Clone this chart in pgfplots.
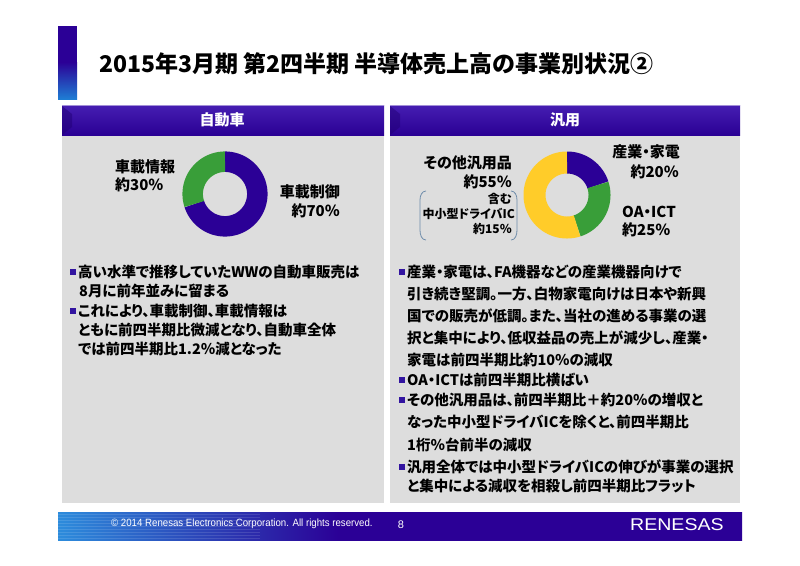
\documentclass[border=0pt]{standalone}
\usepackage{pgfplots}
\pgfplotsset{compat=1.18}
\usepackage{fontspec}
\setmainfont{Noto Sans CJK JP}[RawFeature=+palt]
\newfontfamily\latinfont{Liberation Sans}

\definecolor{rpurple}{RGB}{43,0,150}
\definecolor{rgreen}{RGB}{57,158,57}
\definecolor{ryellow}{RGB}{255,204,41}
\definecolor{panelgray}{RGB}{221,221,221}
\definecolor{hdrtop}{RGB}{70,30,178}
\definecolor{hdrbot}{RGB}{42,0,148}
\definecolor{barblue}{RGB}{30,125,212}
\definecolor{footblue}{RGB}{45,140,220}
\definecolor{brkt}{RGB}{110,140,170}
\definecolor{bulletc}{RGB}{50,20,160}

\newcommand\bul[2]{\fill[bulletc] (#1,#2-3) rectangle ++(6,6);}
\newcommand\txt[3]{\node[anchor=west, inner sep=0pt, font=\fontsize{14.5}{17}\selectfont\bfseries] at (#1,#2) {#3};}

\begin{document}
\begin{tikzpicture}[x=1pt, y=-1pt]
\path[use as bounding box, fill=white] (0,0) rectangle (800,565);

% title
\fill[rpurple] (58,26) rectangle (77,62);
\shade[top color=rpurple, bottom color=barblue] (58,62) rectangle (77,99);
\node[anchor=west, inner sep=0pt, font=\fontsize{23}{25}\selectfont\bfseries] at (99,64)
  {2015年3月期 第2四半期 半導体売上高の事業別状況②};

% panels
\fill[panelgray] (62,135) rectangle (384,503);
\fill[panelgray] (390,135) rectangle (740,503);
\shade[top color=hdrtop, bottom color=hdrbot] (62,105) rectangle (384,135);
\shade[top color=hdrtop, bottom color=hdrbot] (390,105) rectangle (740,135);
\draw[hdrtop!50!white, line width=1pt] (62,105.5) -- (384,105.5) (390,105.5) -- (740,105.5);
\fill[hdrbot!80!black, opacity=0.5] (62,106) -- (72,114) -- (72,127) -- (62,135) -- cycle;
\fill[hdrbot!80!black, opacity=0.5] (390,106) -- (400,114) -- (400,127) -- (390,135) -- cycle;
\node[white, font=\fontsize{15}{17}\selectfont\bfseries] at (222,120) {自動車};
\node[white, font=\fontsize{15}{17}\selectfont\bfseries] at (565,120) {汎用};

% donut: automotive (shares in %)
\begin{axis}[at={(225pt,-194pt)}, anchor=center, x=1pt, y=1pt,
  xmin=-50, xmax=50, ymin=-50, ymax=50, hide axis, clip=false]
  \addplot[rpurple, line width=20.5pt, domain=90-3.6*70:90, samples=120] ({32.3*cos(x)},{32.3*sin(x)});
  \addplot[rgreen, line width=20.5pt, domain=90-3.6*100:90-3.6*70, samples=60] ({32.3*cos(x)},{32.3*sin(x)});
\end{axis}

% donut: general purpose (shares in %)
\begin{axis}[at={(567pt,-195pt)}, anchor=center, x=1pt, y=1pt,
  xmin=-50, xmax=50, ymin=-50, ymax=50, hide axis, clip=false]
  \addplot[rpurple, line width=22pt, domain=90-3.6*20:90, samples=40] ({32.5*cos(x)},{32.5*sin(x)});
  \addplot[rgreen, line width=22pt, domain=90-3.6*45:90-3.6*20, samples=50] ({32.5*cos(x)},{32.5*sin(x)});
  \addplot[ryellow, line width=22pt, domain=90-3.6*100:90-3.6*45, samples=110] ({32.5*cos(x)},{32.5*sin(x)});
\end{axis}

% donut labels
\begin{scope}[every node/.style={inner sep=0pt, font=\fontsize{15}{17}\selectfont\bfseries}]
\node[anchor=west] at (115,167) {車載情報};
\node[anchor=west] at (115,185) {約30％};
\node[anchor=east] at (340,192) {車載制御};
\node[anchor=east] at (340,211) {約70％};
\node[anchor=east] at (680,152) {産業・家電};
\node[anchor=east] at (679,172) {約20％};
\node[anchor=east] at (512,163) {その他汎用品};
\node[anchor=east] at (512,182) {約55％};
\node[anchor=west] at (622,212) {OA・ICT};
\node[anchor=west] at (622,230) {約25％};
\end{scope}
\begin{scope}[every node/.style={inner sep=0pt, anchor=east, font=\fontsize{12}{14}\selectfont\bfseries}]
\node at (512,199) {含む};
\node at (515,214) {中小型ドライバIC};
\node at (512,229) {約15％};
\end{scope}
\draw[brkt, line width=0.8pt] (426,191) to[out=180,in=90] (420,200) -- (420,230) to[out=-90,in=180] (426,240);
\draw[brkt, line width=0.8pt] (511,191) to[out=0,in=90] (517,200) -- (517,230) to[out=-90,in=0] (511,240);

% left text
\bul{70}{272}
\txt{78}{272}{高い水準で推移していたWWの自動車販売は}
\txt{79}{291}{8月に前年並みに留まる}
\bul{70}{311}
\txt{78}{311}{これにより、車載制御、車載情報は}
\txt{78}{330}{ともに前四半期比微減となり、自動車全体}
\txt{78}{349}{では前四半期比1.2％減となった}

% right text
\bul{399}{272}
\txt{407}{272}{産業・家電は、FA機器などの産業機器向けで}
\txt{407}{294}{引き続き堅調。一方、白物家電向けは日本や新興}
\txt{407}{316}{国での販売が低調。また、当社の進める事業の選}
\txt{407}{338}{択と集中により、低収益品の売上が減少し、産業・}
\txt{407}{360}{家電は前四半期比約10％の減収}
\bul{399}{380}
\txt{407}{380}{OA・ICTは前四半期比横ばい}
\bul{399}{400}
\txt{407}{400}{その他汎用品は、前四半期比＋約20％の増収と}
\txt{407}{422}{なった中小型ドライバICを除くと、前四半期比}
\txt{407}{445}{1桁％台前半の減収}
\bul{399}{467}
\txt{407}{467}{汎用全体では中小型ドライバICの伸びが事業の選択}
\txt{407}{486}{と集中による減収を相殺し前四半期比フラット}

% footer
\begin{scope}
\clip (58,512) rectangle (742,540);
\fill[rpurple] (50,505) rectangle (750,545);
\shade[left color=footblue, right color=rpurple] (58,505) rectangle (340,545);
\foreach \yy in {514,517,...,539} \draw[white, opacity=0.12, line width=0.6pt] (58,\yy) -- (260,\yy);
\end{scope}
\node[white, anchor=west, inner sep=0pt] at (111,524)
  {\scalebox{0.92}[1]{\fontsize{10.5}{12}\latinfont\mdseries © 2014 Renesas Electronics Corporation. All rights reserved.}};
\node[white, inner sep=0pt, font=\fontsize{11}{12}\latinfont] at (401,525) {8};
\node[white, anchor=west, inner sep=0pt] at (630,525)
  {\scalebox{1.15}[1]{\fontsize{17}{18}\latinfont RENESAS}};
\end{tikzpicture}
\end{document}
